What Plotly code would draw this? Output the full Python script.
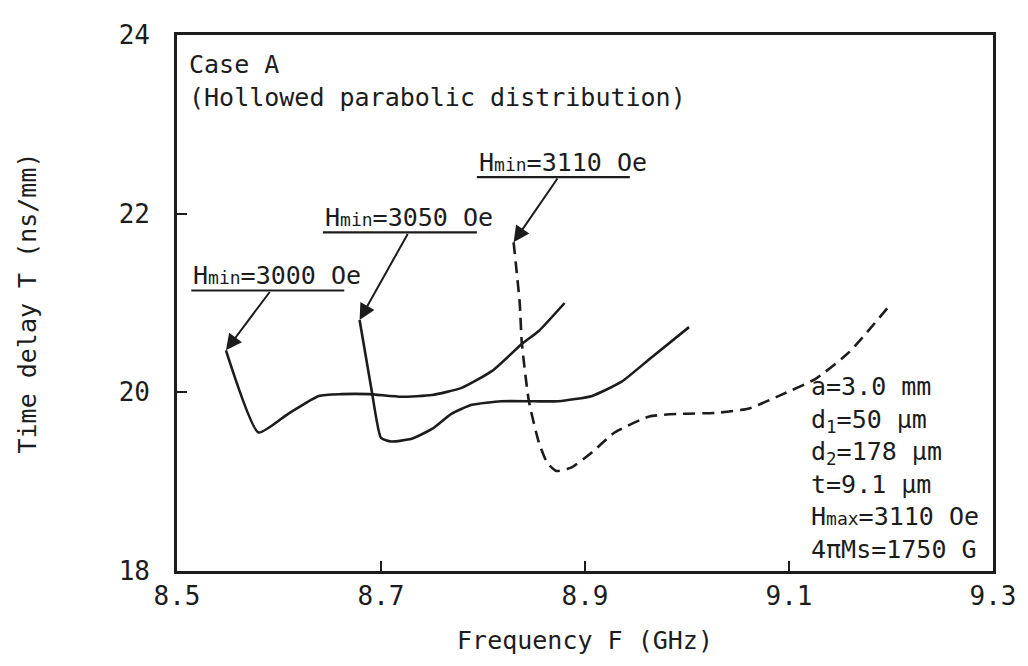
import plotly.graph_objects as go

# ---- data ----
# Hmin = 3000 Oe (solid)
f1 = [8.548, 8.580, 8.609, 8.639, 8.661, 8.688, 8.720, 8.750, 8.779, 8.809, 8.838, 8.855, 8.880]
t1 = [20.47, 19.55, 19.76, 19.96, 19.98, 19.98, 19.95, 19.97, 20.05, 20.24, 20.54, 20.69, 21.00]
# Hmin = 3050 Oe (solid)
f2 = [8.679, 8.691, 8.700, 8.710, 8.730, 8.750, 8.769, 8.789, 8.818, 8.850, 8.874, 8.907, 8.936, 8.963, 9.002]
t2 = [20.81, 20.01, 19.49, 19.45, 19.48, 19.59, 19.76, 19.86, 19.90, 19.90, 19.90, 19.96, 20.12, 20.37, 20.73]
# Hmin = 3110 Oe (dashed)
f3 = [8.830, 8.836, 8.838, 8.845, 8.855, 8.863, 8.872, 8.887, 8.907, 8.929, 8.963, 8.995, 9.028, 9.061,
      9.094, 9.126, 9.159, 9.197]
t3 = [21.68, 21.00, 20.56, 19.90, 19.43, 19.21, 19.12, 19.16, 19.33, 19.55, 19.73, 19.76, 19.77, 19.82,
      19.98, 20.15, 20.45, 20.95]

SM = '<span style="font-size:18px">'
labels = [f"H{SM}min</span>=3000 Oe", f"H{SM}min</span>=3050 Oe", f"H{SM}min</span>=3110 Oe"]
# label anchor (left end of underline) and arrow tail
label_x0 = [8.514, 8.643, 8.794]
label_x1 = [8.664, 8.794, 8.944]
label_y = [21.14, 21.79, 22.41]
tail_x = [8.592, 8.727, 8.874]

x_ticks = [8.5, 8.7, 8.9, 9.1, 9.3]
y_ticks = [18, 20, 22, 24]

params = ["a=3.0 mm", "d<sub>1</sub>=50 μm", "d<sub>2</sub>=178 μm", "t=9.1 μm",
          f"H{SM}max</span>=3110 Oe", "4πMs=1750 G"]

FONT = "DejaVu Sans Mono"
INK = "#1c1c1c"

fig = go.Figure()
series = [(f1, t1, "solid"), (f2, t2, "solid"), (f3, t3, "12px,7px")]
names = ["Hmin=3000 Oe", "Hmin=3050 Oe", "Hmin=3110 Oe"]
for (fx, ty, dash), nm in zip(series, names):
    fig.add_trace(go.Scatter(x=fx, y=ty, mode="lines", name=nm,
                             line=dict(color=INK, width=2.6, dash=dash, shape="spline", smoothing=0.5),
                             showlegend=False))

annotations = []
shapes = []
for (fx, ty, _), lab, x0, x1, yl, tx in zip(series, labels, label_x0, label_x1, label_y, tail_x):
    # arrow from underline to curve start
    annotations.append(dict(x=fx[0], y=ty[0], ax=tx, ay=yl, xref="x", yref="y", axref="x", ayref="y",
                            text="", showarrow=True, arrowhead=2, arrowsize=1.6, arrowwidth=2,
                            arrowcolor=INK, standoff=0))
    # label text
    annotations.append(dict(x=x0, y=yl, xref="x", yref="y", text=lab, showarrow=False,
                            xanchor="left", yanchor="bottom", yshift=-2,
                            font=dict(family=FONT, size=25, color=INK)))
    shapes.append(dict(type="line", x0=x0, x1=x1, y0=yl, y1=yl, xref="x", yref="y",
                       line=dict(color=INK, width=2.2)))

annotations.append(dict(x=0.012, y=0.914, xref="paper", yref="paper",
                        text="Case A<br>(Hollowed parabolic distribution)", showarrow=False,
                        xanchor="left", yanchor="middle", align="left",
                        font=dict(family=FONT, size=25, color=INK)))
annotations.append(dict(x=9.12, y=19.15, xref="x", yref="y", text="<br>".join(params),
                        showarrow=False, xanchor="left", yanchor="middle", align="left",
                        font=dict(family=FONT, size=25, color=INK)))

fig.update_layout(
    width=1020, height=658,
    margin=dict(l=169, r=34, t=17, b=95),
    paper_bgcolor="white", plot_bgcolor="white",
    font=dict(family=FONT, size=25, color=INK),
    annotations=annotations, shapes=shapes,
)
fig.update_xaxes(range=[8.5, 9.3], tickvals=x_ticks, ticktext=[f"{v:.1f}" for v in x_ticks],
                 ticks="inside", ticklen=10, tickwidth=2, tickcolor=INK,
                 showline=True, linewidth=2.6, linecolor=INK, mirror=True, showgrid=False, zeroline=False,
                 title=dict(text="Frequency F (GHz)", standoff=22, font=dict(family=FONT, size=25)),
                 tickfont=dict(family=FONT, size=26))
fig.update_yaxes(range=[18, 24], tickvals=y_ticks, ticktext=[str(v) for v in y_ticks],
                 ticks="inside", ticklen=10, tickwidth=2, tickcolor=INK, ticklabelstandoff=19,
                 showline=True, linewidth=2.6, linecolor=INK, mirror=True, showgrid=False, zeroline=False,
                 title=dict(text="Time delay T (ns/mm)", standoff=75, font=dict(family=FONT, size=25)),
                 tickfont=dict(family=FONT, size=26))

fig.write_html("out.html")
